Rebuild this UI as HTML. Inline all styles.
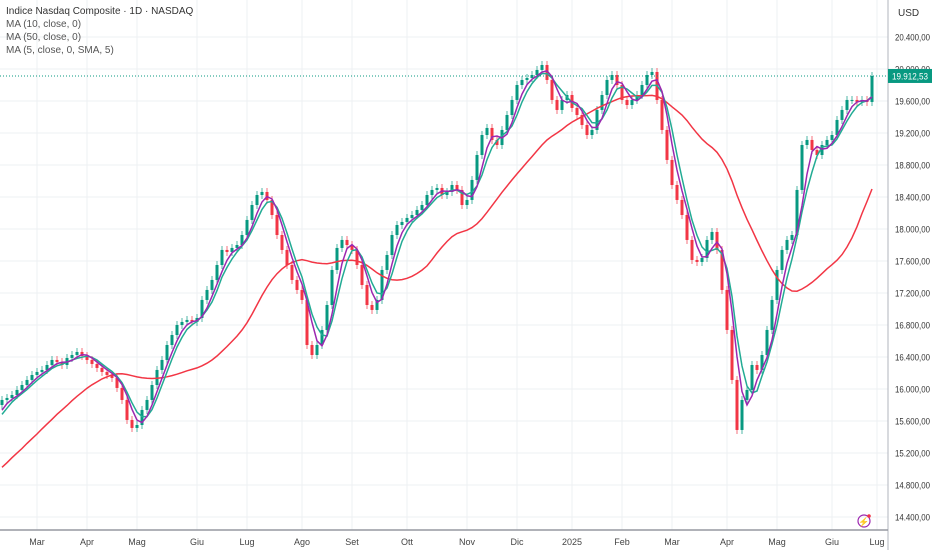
<!DOCTYPE html>
<html><head><meta charset="utf-8">
<style>
body{margin:0;background:#fff;width:932px;height:550px;overflow:hidden;font-family:"Liberation Sans",sans-serif}
svg{display:block}
</style></head><body>
<svg id="chart" width="932" height="550">
<g id="grid"></g>
<g id="marks"></g>
<g id="axes"></g>
<text x="6" y="14" font-size="10" fill="#333">Indice Nasdaq Composite · 1D · NASDAQ</text>
<text x="6" y="27" font-size="10" fill="#555">MA (10, close, 0)</text>
<text x="6" y="40" font-size="10" fill="#555">MA (50, close, 0)</text>
<text x="6" y="53" font-size="10" fill="#555">MA (5, close, 0, SMA, 5)</text>
<text x="898" y="16" font-size="10" fill="#333">USD</text>
<g><circle cx="864" cy="521" r="6" fill="none" stroke="#9c27b0" stroke-width="1.2"/><text x="864" y="525" font-size="9" fill="#9c27b0" text-anchor="middle">⚡</text><circle cx="869" cy="516" r="1.8" fill="#f23645"/></g>
</svg>
<script>
const history = [14400,14450,14380,14550,14600,14520,14700,14750,14650,14800,14850,14780,14950,15000,14920,15100,15150,15080,15250,15350,15300,15500,15550,15700,15800];
const closes = [15863,15888,15925,15988,16050,16113,16175,16213,16238,16300,16363,16338,16300,16388,16425,16463,16413,16363,16313,16263,16213,16175,16138,16013,15863,15613,15513,15550,15738,15863,16050,16238,16363,16550,16675,16800,16838,16863,16838,16888,17113,17238,17363,17550,17738,17713,17763,17800,17925,18113,18300,18425,18463,18363,18175,17925,17738,17550,17363,17238,17113,16550,16425,16550,16738,17050,17488,17763,17863,17800,17738,17550,17300,17050,16988,17113,17488,17675,17925,18050,18088,18138,18175,18238,18300,18425,18488,18513,18425,18463,18550,18488,18300,18363,18613,18925,19175,19263,19113,19050,19238,19425,19613,19800,19863,19888,19925,19988,20050,19863,19613,19488,19613,19675,19513,19425,19300,19175,19238,19488,19675,19863,19925,19800,19613,19550,19613,19675,19800,19925,19963,19613,19238,18863,18550,18363,18175,17863,17613,17588,17638,17863,17963,17738,17238,16738,16113,15488,15863,15988,16300,16238,16425,16738,17113,17488,17738,17863,17925,18488,19050,19113,18988,18925,19050,19113,19175,19363,19488,19613,19613,19588,19613,19588,19913];
const monthLabels = ["Mar","Apr","Mag","Giu","Lug","Ago","Set","Ott","Nov","Dic","2025","Feb","Mar","Apr","Mag","Giu","Lug"];
const monthIdx = [7,17,27,39,49,60,70,81,93,103,114,124,134,145,155,166,175];
const priceTicks = [14400,14800,15200,15600,16000,16400,16800,17200,17600,18000,18400,18800,19200,19600,20000,20400];

const NS="http://www.w3.org/2000/svg";
const all = history.concat(closes);
const H = history.length;
const PW = 888, PB = 530;
function yS(p){return 37+(20400-p)*0.08;}
function xS(i){return 2+i*5;}
function el(tag,attrs,parent){const e=document.createElementNS(NS,tag);for(const k in attrs)e.setAttribute(k,attrs[k]);parent.appendChild(e);return e;}
const grid=document.getElementById('grid'), marks=document.getElementById('marks'), axes=document.getElementById('axes');
function fmt(v){return v.toString().replace(/\B(?=(\d{3})+(?!\d))/g,'.')+',00';}

priceTicks.forEach(p=>{
  const l=el('line',{x1:0,x2:PW,y1:yS(p),y2:yS(p),stroke:'#eef0f3'},grid);
  
  
  const t=el('text',{x:895,y:yS(p)+3.5,'font-size':9.5,fill:'#333',textLength:35,lengthAdjust:'spacingAndGlyphs'},axes);
  t.textContent=fmt(p);
  
  
});
monthIdx.forEach((m,k)=>{
  const x=xS(m);
  const l=el('line',{x1:x,x2:x,y1:0,y2:PB,stroke:'#eef0f3'},grid);
  
  
  const t=el('text',{x:x,y:545,'font-size':9,fill:'#444','text-anchor':'middle'},axes);
  t.textContent=monthLabels[k];
  
  
});
const ax1=el('line',{x1:PW,x2:PW,y1:0,y2:550,stroke:'#b2b5be'},axes);


const ax2=el('line',{x1:0,x2:PW,y1:PB,y2:PB,stroke:'#9598a1','stroke-width':1.5},axes);



for(let i=0;i<closes.length;i++){
  const c=closes[i], o=all[H+i-1];
  const x=xS(i), up=c>=o, col=up?'#089981':'#f23645';
  const yt=yS(Math.max(o,c)), yb=yS(Math.min(o,c));
  const w=el('line',{x1:x,x2:x,y1:yt-4,y2:yb+4,stroke:col,'stroke-opacity':0.7},marks);
  
  
  const r=el('rect',{x:x-1.5,y:yt,width:3,height:Math.max(1,yb-yt),fill:col},marks);
  
  
}
function sma(arr,n){return arr.map((v,i)=>{if(i<n-1)return null;let s=0;for(let k=i-n+1;k<=i;k++)s+=arr[k];return s/n;});}
const ma10=sma(all,5), ma50=sma(all,25), ma5=sma(sma(all,3).map(v=>v===null?0:v),2);
function line(arr,color,name){
  let d='';
  for(let i=0;i<closes.length;i++){const v=arr[H+i];if(v==null)continue;d+=(d?'L':'M')+xS(i)+','+yS(v).toFixed(1);}
  const p=el('path',{d:d,fill:'none',stroke:color,'stroke-width':1.5},marks);
  
  
}
line(ma50,'#f23645','ma50-line');
line(ma10,'#22ab94','ma10-line');
line(ma5,'#9c27b0','ma5-sma-line');

const last=closes[closes.length-1];
const pl=el('line',{x1:0,x2:PW,y1:yS(last),y2:yS(last),stroke:'#089981','stroke-dasharray':'1 2'},marks);


const bx=el('rect',{x:PW,y:yS(last)-7,width:44,height:14,fill:'#089981'},axes);


const bt=el('text',{x:PW+4,y:yS(last)+3.5,'font-size':9.5,fill:'#fff',textLength:36,lengthAdjust:'spacingAndGlyphs'},axes);
bt.textContent='19.912,53';


</script>
</body></html>
